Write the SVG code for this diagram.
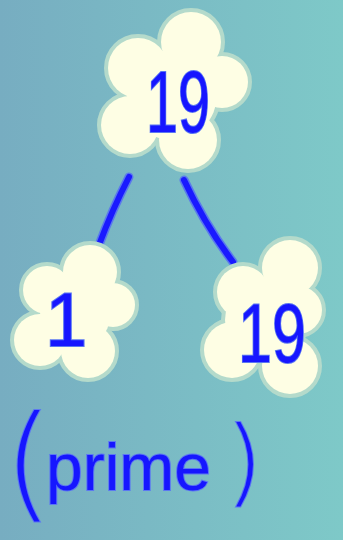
<svg xmlns="http://www.w3.org/2000/svg" width="343" height="540" viewBox="0 0 343 540">
<defs>
<linearGradient id="bg" x1="0" y1="0" x2="1" y2="0">
<stop offset="0" stop-color="#77adc1"/>
<stop offset="1" stop-color="#7ec9c8"/>
</linearGradient>
</defs>
<style>
.ol{fill:#d2ead8;stroke:#b4dacb;stroke-width:8}
.fl{fill:#fefee4}
.t{font-family:"Liberation Sans",Arial,sans-serif;fill:#1616ff;stroke:#5c78f2;stroke-width:2;paint-order:stroke}
.p{font-family:"DejaVu Sans","Liberation Sans",sans-serif;font-weight:200}
.c{fill:none;stroke:#1a1aff;stroke-width:6;stroke-linecap:round}
.ch{fill:none;stroke:#5a78ee;stroke-width:9;stroke-linecap:round}
</style>
<rect width="343" height="540" fill="url(#bg)"/>
<g id="connectors">
<path class="ch" d="M129 177 Q112 210 99 245"/>
<path class="c" d="M129 177 Q112 210 99 245"/>
<path class="ch" d="M184 180 Q205 225 233 262"/>
<path class="c" d="M184 180 Q205 225 233 262"/>
</g>
<g id="node-19-top">
<g class="ol">
<circle cx="191" cy="42" r="30"/><circle cx="222" cy="82" r="26"/><circle cx="138" cy="68" r="30"/><circle cx="130" cy="125" r="29"/><circle cx="188" cy="140" r="29"/><circle cx="172" cy="95" r="45"/>
</g>
<g class="fl">
<circle cx="191" cy="42" r="30"/><circle cx="222" cy="82" r="26"/><circle cx="138" cy="68" r="30"/><circle cx="130" cy="125" r="29"/><circle cx="188" cy="140" r="29"/><circle cx="172" cy="95" r="45"/>
</g>
<text class="t" x="146" y="132" font-size="88" textLength="64" lengthAdjust="spacingAndGlyphs">19</text>
</g>
<g id="node-1">
<g class="ol">
<circle cx="90" cy="272" r="27"/><circle cx="113" cy="305" r="22"/><circle cx="47" cy="290" r="24"/><circle cx="40" cy="340" r="26"/><circle cx="88" cy="351" r="27"/><circle cx="75" cy="315" r="35"/>
</g>
<g class="fl">
<circle cx="90" cy="272" r="27"/><circle cx="113" cy="305" r="22"/><circle cx="47" cy="290" r="24"/><circle cx="40" cy="340" r="26"/><circle cx="88" cy="351" r="27"/><circle cx="75" cy="315" r="35"/>
</g>
<text class="t" x="45" y="346" font-size="76">1</text>
</g>
<g id="node-19-right">
<g class="ol">
<circle cx="290" cy="268" r="28"/><circle cx="298" cy="310" r="24"/><circle cx="243" cy="292" r="26"/><circle cx="232" cy="350" r="28"/><circle cx="290" cy="366" r="28"/><circle cx="265" cy="320" r="40"/>
</g>
<g class="fl">
<circle cx="290" cy="268" r="28"/><circle cx="298" cy="310" r="24"/><circle cx="243" cy="292" r="26"/><circle cx="232" cy="350" r="28"/><circle cx="290" cy="366" r="28"/><circle cx="265" cy="320" r="40"/>
</g>
<text class="t" x="238" y="362" font-size="84" textLength="68" lengthAdjust="spacingAndGlyphs">19</text>
</g>
<text class="t"><tspan class="p" x="4" y="505" font-size="124">(</tspan><tspan x="46" y="490" font-size="66">prime</tspan><tspan class="p" x="226" y="494" font-size="94">)</tspan></text>
</svg>
